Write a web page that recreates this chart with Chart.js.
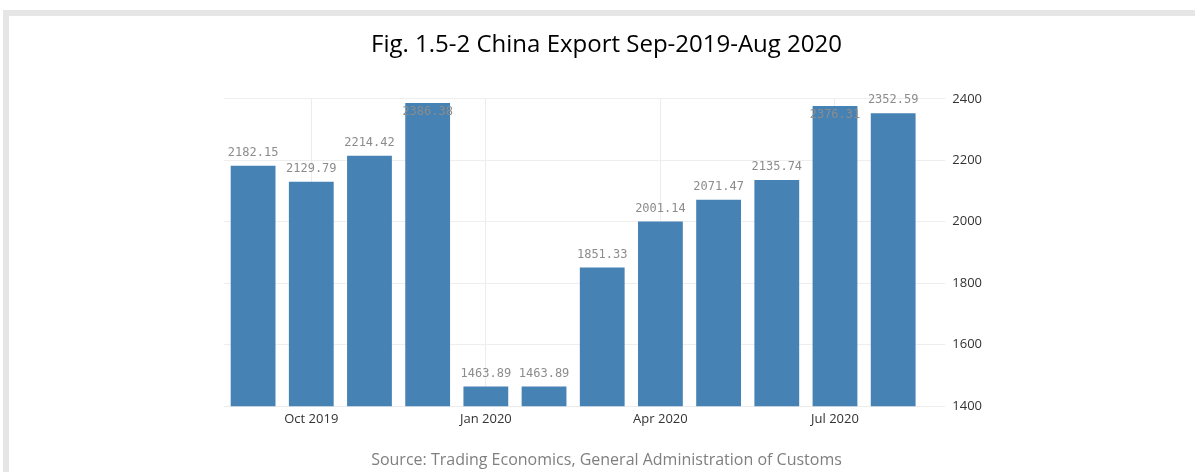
<!DOCTYPE html>
<html>
<head>
<meta charset="utf-8">
<script src="https://cdn.jsdelivr.net/npm/chart.js@4.4.0/dist/chart.umd.min.js"></script>
<style>
  html, body { margin: 0; padding: 0; background: #fff; }
  #wrap { position: relative; width: 1195px; height: 472px; overflow: hidden; }
  #frame { position: absolute; left: 3px; top: 10px; width: 1200px; height: 480px;
           border-top: 6px solid #e6e6e6; border-left: 6px solid #e6e6e6; box-sizing: border-box; }
  #exportChart { position: absolute; left: 0; top: 0; }
</style>
</head>
<body>
<div id="wrap">
  <div id="frame"></div>
  <canvas id="exportChart" width="1195" height="472"></canvas>
</div>
<script>
// data (USD 100 million)
const months = ['Sep 2019', 'Oct 2019', 'Nov 2019', 'Dec 2019', 'Jan 2020', 'Feb 2020',
                'Mar 2020', 'Apr 2020', 'May 2020', 'Jun 2020', 'Jul 2020', 'Aug 2020'];
const exportValues = [2182.15, 2129.79, 2214.42, 2386.38, 1463.89, 1463.89,
                      1851.33, 2001.14, 2071.47, 2135.74, 2376.31, 2352.59];
const shownMonths = ['Oct 2019', 'Jan 2020', 'Apr 2020', 'Jul 2020'];
const yTicks = [1400, 1600, 1800, 2000, 2200, 2400];

// labels above bars, pushed inside the bar when there is no room on top
const valueLabels = {
    id: 'valueLabels',
    afterDatasetsDraw(chart) {
        const ctx = chart.ctx;
        const meta = chart.getDatasetMeta(0);
        ctx.save();
        ctx.font = '12px "DejaVu Sans Mono", monospace';
        ctx.fillStyle = '#8c8c8c';
        ctx.textAlign = 'center';
        ctx.textBaseline = 'middle';
        meta.data.forEach((bar, i) => {
            let y = bar.y - 13;
            if (y - 7 < chart.chartArea.top - 11) {
                y = bar.y + 9;
            }
            ctx.fillText(exportValues[i].toFixed(2), bar.x, y);
        });
        ctx.restore();
    }
};

const ctx = document.getElementById('exportChart').getContext('2d');
new Chart(ctx, {
    type: 'bar',
    data: {
        labels: months,
        datasets: [{
            label: 'China Export',
            data: exportValues,
            backgroundColor: '#4682b4',
            borderWidth: 0,
            barPercentage: 0.77,
            categoryPercentage: 1.0
        }]
    },
    options: {
        responsive: false,
        animation: false,
        layout: { padding: { left: 224, right: 206, top: 0, bottom: 2 } },
        plugins: {
            legend: { display: false },
            tooltip: { enabled: false },
            title: {
                display: true,
                text: 'Fig. 1.5-2 China Export Sep-2019-Aug 2020',
                color: '#000',
                font: { family: '"Open Sans", sans-serif', size: 24, weight: 'normal' },
                padding: { top: 31, bottom: 39 }
            },
            subtitle: {
                display: true,
                position: 'bottom',
                text: 'Source: Trading Economics, General Administration of Customs',
                color: '#7f7f7f',
                font: { family: '"Open Sans", sans-serif', size: 16 },
                padding: { top: 19, bottom: 0 }
            }
        },
        scales: {
            x: {
                grid: {
                    offset: false,
                    drawTicks: false,
                    color: (c) => shownMonths.includes(months[c.index]) ? '#ececec' : 'rgba(0,0,0,0)'
                },
                border: { display: true, color: '#ececec' },
                ticks: {
                    autoSkip: false,
                    maxRotation: 0,
                    padding: 5,
                    color: '#333',
                    font: { family: '"Open Sans", sans-serif', size: 13 },
                    callback: function (v, i) {
                        return shownMonths.includes(months[i]) ? months[i] : '';
                    }
                }
            },
            y: {
                position: 'right',
                min: 1400,
                max: 2400,
                afterBuildTicks: (axis) => { axis.ticks = yTicks.map(v => ({ value: v })); },
                grid: { color: '#eeeeee', tickLength: 23 },
                border: { display: false },
                ticks: {
                    padding: 7,
                    color: '#333',
                    font: { family: '"Open Sans", sans-serif', size: 13 },
                    callback: (v) => String(v)
                }
            }
        }
    },
    plugins: [valueLabels]
});
</script>
</body>
</html>
